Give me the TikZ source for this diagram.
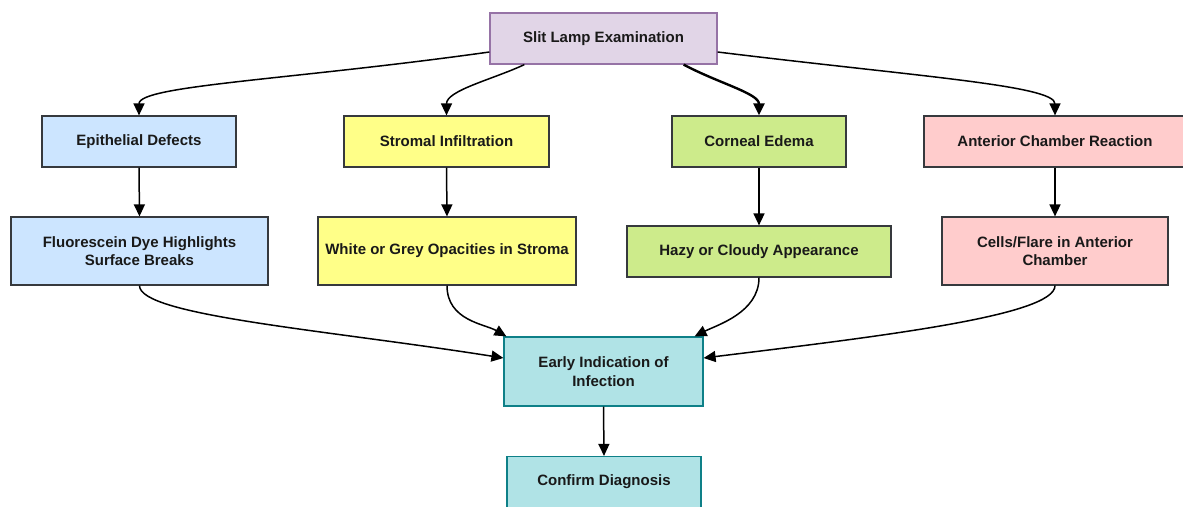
\documentclass[tikz,border=0pt]{standalone}
\usepackage{fontspec}
\setmainfont{Liberation Sans}
\usetikzlibrary{arrows.meta}
\definecolor{lilac}{HTML}{E1D5E7}
\definecolor{lilacline}{HTML}{9673A6}
\definecolor{skyfill}{HTML}{CCE5FF}
\definecolor{lemonfill}{HTML}{FFFF88}
\definecolor{limefill}{HTML}{CDEB8B}
\definecolor{rosefill}{HTML}{FFCCCC}
\definecolor{tealfill}{HTML}{B0E3E6}
\definecolor{tealline}{HTML}{0E8088}
\definecolor{boxline}{HTML}{36393D}
\begin{document}
\begin{tikzpicture}[x=1pt, y=1pt,
          box/.style={draw=boxline, line width=1.2pt, minimum height=51pt, align=center,
                      inner sep=2pt, text=black!90, font=\bfseries\fontsize{15}{18.5}\selectfont},
          arrow/.style={-{Triangle[length=12pt,width=11pt]}, line width=1.5pt}]
          \useasboundingbox (0,0) rectangle (1183,-506);
          % top
          \node[box, fill=lilac, draw=lilacline, minimum width=227pt] (slit) at (603.5,-38.5) {Slit Lamp Examination};
          % signs
          \node[box, fill=skyfill, minimum width=194pt] (epi) at (139,-141.5) {Epithelial Defects};
          \node[box, fill=lemonfill, minimum width=205pt] (strom) at (446.5,-141.5) {Stromal Infiltration};
          \node[box, fill=limefill, minimum width=174pt] (edema) at (759,-141.5) {Corneal Edema};
          \node[box, fill=rosefill, minimum width=262pt] (acr) at (1055,-141.5) {Anterior Chamber Reaction};
          % findings
          \node[box, fill=skyfill, minimum width=257pt, minimum height=68pt] (fluor) at (139.5,-251) {Fluorescein Dye Highlights\\Surface Breaks};
          \node[box, fill=lemonfill, minimum width=258pt, minimum height=68pt, inner sep=0pt] (opac) at (447,-251) {White or Grey Opacities in Stroma};
          \node[box, fill=limefill, minimum width=264pt] (hazy) at (759,-251.5) {Hazy or Cloudy Appearance};
          \node[box, fill=rosefill, minimum width=226pt, minimum height=68pt] (cells) at (1055,-251) {Cells/Flare in Anterior\\Chamber};
          % result
          \node[box, fill=tealfill, draw=tealline, minimum width=199pt, minimum height=69pt] (early) at (603.5,-371.5) {Early Indication of\\Infection};
          \node[box, fill=tealfill, draw=tealline, minimum width=194pt] (confirm) at (604,-482) {Confirm Diagnosis};
          % slit lamp to signs
          \draw[arrow] ([yshift=-13.5pt]slit.west) to[out=188, in=90, out distance=200pt, in distance=30pt] (epi.north);
          \draw[arrow] ([xshift=35pt]slit.south west) to[out=205, in=90, out distance=35pt, in distance=25pt] (strom.north);
          \draw[arrow, line width=2.4pt] ([xshift=-34pt]slit.south east) to[out=-28, in=90, out distance=40pt, in distance=22pt] (edema.north);
          \draw[arrow] ([yshift=-13.5pt]slit.east) to[out=-7, in=90, out distance=200pt, in distance=30pt] (acr.north);
          % straight down
          \foreach \a/\b in {epi/fluor, strom/opac, edema/hazy, acr/cells, early/confirm}{
              \draw[arrow] (\a.south) -- (\b.north);
          }
          % findings to early indication
          \draw[arrow] (fluor.south) to[out=-90, in=171, out distance=30pt, in distance=180pt] ([yshift=13.5pt]early.west);
          \draw[arrow] (opac.south) to[out=-90, in=150, out distance=35pt, in distance=25pt] ([xshift=3pt]early.north west);
          \draw[arrow] (hazy.south) to[out=-90, in=27, out distance=35pt, in distance=25pt] ([xshift=-9pt]early.north east);
          \draw[arrow] (cells.south) to[out=-90, in=7, out distance=30pt, in distance=180pt] ([yshift=13.5pt]early.east);
      \end{tikzpicture}
\end{document}
